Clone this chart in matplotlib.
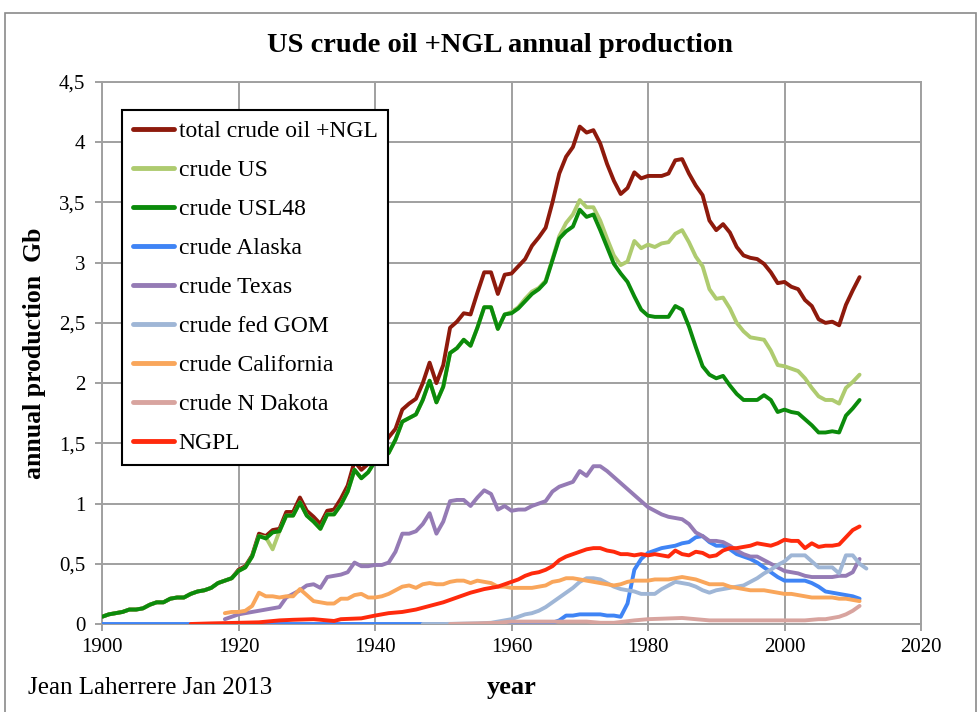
import numpy as np
import matplotlib
matplotlib.use('Agg')
import matplotlib.pyplot as plt
from matplotlib.patches import Rectangle
from matplotlib.ticker import FuncFormatter

plt.rcParams['font.family'] = ['Liberation Serif', 'DejaVu Serif']

# ---- data (Gb per year) ----
years_total = list(range(1900, 2012))
total = [0.06, 0.08, 0.09, 0.10, 0.12, 0.12, 0.13, 0.16, 0.18, 0.18,
         0.21, 0.22, 0.22, 0.25, 0.27, 0.28, 0.30, 0.34, 0.36, 0.38,
         0.45, 0.48, 0.57, 0.75, 0.73, 0.78, 0.79, 0.93, 0.93, 1.05,
         0.94, 0.89, 0.83, 0.94, 0.95, 1.04, 1.15, 1.35, 1.28, 1.33,
         1.42, 1.47, 1.55, 1.62, 1.78, 1.83, 1.87, 2.00, 2.17, 2.00,
         2.15, 2.46, 2.51, 2.58, 2.57, 2.75, 2.92, 2.92, 2.74, 2.90,
         2.91, 2.97, 3.03, 3.14, 3.21, 3.29, 3.50, 3.74, 3.88, 3.96,
         4.13, 4.08, 4.10, 3.99, 3.82, 3.68, 3.57, 3.62, 3.75, 3.70,
         3.72, 3.72, 3.72, 3.74, 3.85, 3.86, 3.74, 3.64, 3.56, 3.35,
         3.27, 3.32, 3.25, 3.13, 3.06, 3.04, 3.03, 2.99, 2.92, 2.83,
         2.84, 2.80, 2.78, 2.69, 2.64, 2.53, 2.50, 2.51, 2.48, 2.65,
         2.77, 2.88]

years_l48 = list(range(1900, 2012))
crude_l48 = [0.06, 0.08, 0.09, 0.10, 0.12, 0.12, 0.13, 0.16, 0.18, 0.18,
             0.21, 0.22, 0.22, 0.25, 0.27, 0.28, 0.30, 0.34, 0.36, 0.38,
             0.44, 0.47, 0.56, 0.73, 0.71, 0.76, 0.77, 0.90, 0.90, 1.01,
             0.90, 0.85, 0.79, 0.91, 0.91, 0.99, 1.10, 1.28, 1.21, 1.26,
             1.35, 1.37, 1.42, 1.53, 1.68, 1.71, 1.74, 1.86, 2.02, 1.84,
             1.97, 2.25, 2.29, 2.36, 2.31, 2.46, 2.63, 2.63, 2.45, 2.57,
             2.58, 2.62, 2.68, 2.74, 2.78, 2.84, 3.02, 3.20, 3.26, 3.30,
             3.44, 3.38, 3.40, 3.27, 3.13, 2.99, 2.91, 2.84, 2.72, 2.61,
             2.56, 2.55, 2.55, 2.55, 2.64, 2.61, 2.47, 2.30, 2.14, 2.07,
             2.04, 2.06, 1.98, 1.91, 1.86, 1.86, 1.86, 1.90, 1.86, 1.76,
             1.78, 1.76, 1.75, 1.70, 1.65, 1.59, 1.59, 1.60, 1.59, 1.73,
             1.79, 1.86]

years_us = list(range(1900, 2012))
crude_us = [0.06, 0.08, 0.09, 0.10, 0.12, 0.12, 0.13, 0.16, 0.18, 0.18,
            0.21, 0.22, 0.22, 0.25, 0.27, 0.28, 0.30, 0.34, 0.36, 0.38,
            0.44, 0.47, 0.56, 0.73, 0.72, 0.62, 0.77, 0.90, 0.90, 1.01,
            0.90, 0.85, 0.79, 0.91, 0.91, 0.99, 1.10, 1.28, 1.21, 1.26,
            1.35, 1.37, 1.42, 1.53, 1.68, 1.71, 1.74, 1.86, 2.02, 1.84,
            1.97, 2.25, 2.29, 2.36, 2.31, 2.46, 2.63, 2.63, 2.45, 2.57,
            2.59, 2.63, 2.70, 2.76, 2.79, 2.85, 3.03, 3.22, 3.33, 3.40,
            3.52, 3.46, 3.46, 3.35, 3.20, 3.06, 2.98, 3.01, 3.18, 3.12,
            3.15, 3.13, 3.16, 3.17, 3.24, 3.27, 3.17, 3.05, 2.97, 2.78,
            2.70, 2.71, 2.62, 2.50, 2.43, 2.38, 2.37, 2.36, 2.27, 2.15,
            2.14, 2.12, 2.10, 2.04, 1.96, 1.89, 1.86, 1.86, 1.83, 1.96,
            2.01, 2.07]

years_ak = [1900, 1957, 1959, 1960, 1962, 1965, 1966, 1967, 1968, 1969,
            1970, 1971, 1972, 1973, 1974, 1975, 1976, 1977, 1978, 1979,
            1980, 1981, 1982, 1983, 1984, 1985, 1986, 1987, 1988, 1989,
            1990, 1991, 1992, 1993, 1994, 1995, 1996, 1997, 1998, 1999,
            2000, 2001, 2002, 2003, 2004, 2005, 2006, 2007, 2008, 2009,
            2010, 2011]
crude_ak = [0.0, 0.0, 0.0, 0.005, 0.01, 0.01, 0.01, 0.03, 0.07, 0.07,
            0.08, 0.08, 0.08, 0.08, 0.07, 0.07, 0.06, 0.17, 0.45, 0.54,
            0.59, 0.61, 0.63, 0.64, 0.65, 0.67, 0.68, 0.72, 0.73, 0.68,
            0.65, 0.65, 0.62, 0.58, 0.56, 0.54, 0.51, 0.47, 0.43, 0.39,
            0.36, 0.36, 0.36, 0.36, 0.34, 0.31, 0.27, 0.26, 0.25, 0.24,
            0.23, 0.21]

years_tx = list(range(1918, 2012))
crude_tx = [0.04, 0.06, 0.08, 0.09, 0.10, 0.11, 0.12, 0.13, 0.14, 0.22,
            0.25, 0.28, 0.32, 0.33, 0.30, 0.39, 0.40, 0.41, 0.43, 0.51,
            0.48, 0.48, 0.49, 0.49, 0.51, 0.60, 0.75, 0.75, 0.77, 0.83,
            0.92, 0.75, 0.85, 1.02, 1.03, 1.03, 0.98, 1.05, 1.11, 1.08,
            0.95, 0.98, 0.94, 0.95, 0.95, 0.98, 1.00, 1.02, 1.10, 1.14,
            1.16, 1.18, 1.27, 1.23, 1.31, 1.31, 1.27, 1.22, 1.17, 1.12,
            1.07, 1.02, 0.97, 0.94, 0.91, 0.89, 0.88, 0.87, 0.83, 0.76,
            0.73, 0.69, 0.69, 0.68, 0.65, 0.61, 0.58, 0.56, 0.56, 0.53,
            0.50, 0.47, 0.44, 0.43, 0.42, 0.40, 0.39, 0.39, 0.39, 0.39,
            0.40, 0.40, 0.43, 0.54]

years_gom = [1947, 1950, 1955, 1957] + list(range(1958, 2013))
crude_gom = [0.0, 0.0, 0.005, 0.01,
             0.02, 0.03, 0.04, 0.06, 0.08, 0.09, 0.11, 0.14, 0.18, 0.22,
             0.26, 0.30, 0.35, 0.38, 0.38, 0.37, 0.34, 0.31, 0.29, 0.28,
             0.27, 0.25, 0.25, 0.25, 0.29, 0.32, 0.35, 0.34, 0.33, 0.31,
             0.28, 0.26, 0.28, 0.29, 0.30, 0.31, 0.32, 0.35, 0.38, 0.42,
             0.45, 0.49, 0.52, 0.57, 0.57, 0.57, 0.52, 0.47, 0.47, 0.47,
             0.42, 0.57, 0.57, 0.50, 0.46]

years_ca = list(range(1918, 2012))
crude_ca = [0.09, 0.10, 0.10, 0.11, 0.15, 0.26, 0.23, 0.23, 0.22, 0.23,
            0.23, 0.29, 0.24, 0.19, 0.18, 0.17, 0.17, 0.21, 0.21, 0.24,
            0.25, 0.22, 0.22, 0.23, 0.25, 0.28, 0.31, 0.32, 0.30, 0.33,
            0.34, 0.33, 0.33, 0.35, 0.36, 0.36, 0.34, 0.36, 0.35, 0.34,
            0.31, 0.31, 0.30, 0.30, 0.30, 0.30, 0.31, 0.32, 0.35, 0.36,
            0.38, 0.38, 0.37, 0.36, 0.35, 0.34, 0.33, 0.32, 0.33, 0.35,
            0.36, 0.36, 0.36, 0.37, 0.37, 0.37, 0.38, 0.39, 0.38, 0.37,
            0.35, 0.33, 0.33, 0.33, 0.31, 0.30, 0.29, 0.28, 0.28, 0.28,
            0.27, 0.26, 0.25, 0.25, 0.24, 0.23, 0.22, 0.22, 0.22, 0.22,
            0.21, 0.21, 0.20, 0.19]

years_nd = [1951, 1955, 1958, 1960, 1966, 1971, 1973, 1975, 1978, 1980,
            1985, 1987, 1989, 1995, 2003, 2005, 2006, 2007, 2008, 2009,
            2010, 2011]
crude_nd = [0.0, 0.005, 0.01, 0.02, 0.02, 0.02, 0.01, 0.01, 0.03, 0.04,
            0.05, 0.04, 0.03, 0.03, 0.03, 0.04, 0.04, 0.05, 0.06, 0.08,
            0.11, 0.15]

years_ngpl = [1913, 1916, 1920, 1923, 1926, 1928, 1931, 1934, 1935, 1938,
              1940, 1942, 1944, 1946, 1948, 1950, 1952, 1954, 1956, 1958] + list(range(1959, 2012))
ngpl = [0.0, 0.005, 0.01, 0.014, 0.03, 0.035, 0.04, 0.025, 0.04, 0.047,
        0.07, 0.09, 0.10, 0.12, 0.15, 0.18, 0.22, 0.26, 0.29, 0.31,
        0.33, 0.35, 0.37, 0.40, 0.42, 0.43, 0.45, 0.48, 0.53, 0.56,
        0.58, 0.60, 0.62, 0.63, 0.63, 0.61, 0.60, 0.58, 0.58, 0.57,
        0.58, 0.57, 0.58, 0.57, 0.56, 0.61, 0.58, 0.57, 0.60, 0.59,
        0.56, 0.57, 0.61, 0.63, 0.63, 0.64, 0.65, 0.67, 0.66, 0.65,
        0.67, 0.70, 0.69, 0.69, 0.63, 0.67, 0.64, 0.65, 0.65, 0.66,
        0.72, 0.78, 0.81]

series = [
    ('total crude oil +NGL', years_total, total, '#8E1A0C'),
    ('crude US', years_us, crude_us, '#AECB6F'),
    ('crude USL48', years_l48, crude_l48, '#0B8B0B'),
    ('crude Alaska', years_ak, crude_ak, '#3F84F5'),
    ('crude Texas', years_tx, crude_tx, '#957BB5'),
    ('crude fed GOM', years_gom, crude_gom, '#9FB6D6'),
    ('crude California', years_ca, crude_ca, '#F9A65B'),
    ('crude N Dakota', years_nd, crude_nd, '#D8A49F'),
    ('NGPL', years_ngpl, ngpl, '#FF2A0C'),
]

fig = plt.figure(figsize=(9.79, 7.12), dpi=100)
ax = fig.add_axes([102/979, 1-624/712, 819/979, 542/712])

for i, (name, x, y, col) in enumerate(series):
    ax.plot(x, y, color=col, lw=2.8, label=name, zorder=3+i, solid_capstyle='round')

ax.set_xlim(1900, 2020)
ax.set_ylim(0, 4.5)
ax.set_xticks(np.arange(1900, 2021, 20))
ax.set_yticks(np.arange(0, 4.51, 0.5))
ax.yaxis.set_major_formatter(FuncFormatter(lambda v, p: ('%g' % v).replace('.', ',')))
ax.grid(True, color='#a0a0a0', lw=1.4, zorder=0)
for s in ax.spines.values():
    s.set_color('#a0a0a0')
    s.set_linewidth(1.4)
ax.tick_params(axis='both', labelsize=15, color='#a0a0a0', width=1.4, length=5)
ax.tick_params(axis='x', pad=5)
ax.tick_params(axis='y', pad=7)

fig.text(500/979, 1-46/712, 'US crude oil +NGL annual production', fontsize=20.5,
         fontweight='bold', ha='center', va='center')
ax.set_xlabel('year', fontsize=19, fontweight='bold', labelpad=14)
ax.set_ylabel('annual production  Gb', fontsize=18.5, fontweight='bold', labelpad=9)
fig.text(28/979, 1-688/712, 'Jean Laherrere Jan 2013', fontsize=18, va='center', ha='left')

leg = ax.legend(loc='upper left', bbox_to_anchor=(20/819, 1-28/542), borderaxespad=0,
                fontsize=17, handlelength=1.75, handletextpad=0.2, labelspacing=0.74,
                fancybox=False, framealpha=1, edgecolor='black', borderpad=0.45)
leg.get_frame().set_linewidth(1.5)
for h in leg.get_lines():
    h.set_linewidth(3.5)

# outer chart border
fig.patches.append(Rectangle((5/979, -0.05), 971/979, 1-13/712+0.05, transform=fig.transFigure,
                             fill=False, edgecolor='#8a8a8a', lw=1.2))

fig.savefig('out.png', dpi=100)
